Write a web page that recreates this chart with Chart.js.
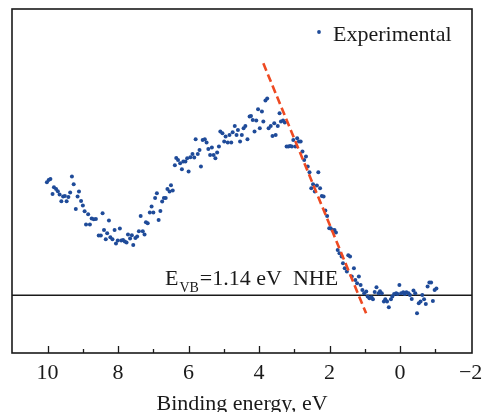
<!DOCTYPE html>
<html>
<head>
<meta charset="utf-8">
<script src="https://cdn.jsdelivr.net/npm/chart.js@4.4.1/dist/chart.umd.min.js"></script>
<style>
  body { margin: 0; background: #fff; }
  #wrap { width: 484px; height: 412px; }
</style>
</head>
<body>
<div id="wrap"><canvas id="vb" width="484" height="412"></canvas></div>
<script>
// binding energy (eV) and intensity (a.u., baseline = 0)
const energy = [10.02,9.97,9.92,9.86,9.82,9.76,9.71,9.66,9.61,9.56,9.51,9.46,9.41,9.36,9.31,9.26,9.20,9.15,9.11,9.05,
  9.00,8.95,8.91,8.85,8.80,8.75,8.69,8.63,8.55,8.49,8.44,8.40,8.35,8.31,8.26,8.22,8.16,8.10,8.06,8.01,
  7.95,7.91,7.86,7.81,7.76,7.72,7.66,7.61,7.57,7.51,7.46,7.41,7.36,7.30,7.25,7.21,7.16,7.10,7.05,7.00,
  6.95,6.90,6.85,6.80,6.75,6.70,6.65,6.60,6.54,6.50,6.45,6.39,6.35,6.30,6.24,6.19,6.15,6.09,6.04,6.00,
  5.95,5.89,5.84,5.80,5.74,5.69,5.65,5.60,5.54,5.49,5.44,5.39,5.34,5.29,5.24,5.19,5.14,5.10,5.04,4.99,
  4.95,4.89,4.84,4.79,4.75,4.69,4.64,4.60,4.54,4.49,4.44,4.39,4.33,4.27,4.23,4.18,4.13,4.08,4.03,3.98,
  3.92,3.88,3.82,3.77,3.73,3.67,3.62,3.57,3.53,3.47,3.42,3.38,3.32,3.27,3.22,3.17,3.12,3.07,3.03,2.97,
  2.92,2.87,2.82,2.77,2.72,2.67,2.62,2.57,2.52,2.47,2.42,2.36,2.32,2.27,2.22,2.17,2.12,2.07,2.01,1.97,
  1.92,1.86,1.82,1.77,1.72,1.66,1.62,1.57,1.51,1.47,1.42,1.37,1.31,1.27,1.22,1.17,1.12,1.07,1.02,0.96,
  0.92,0.87,0.81,0.77,0.72,0.67,0.61,0.57,0.52,0.46,0.42,0.37,0.32,0.26,0.22,0.17,0.11,0.07,0.02,-0.03,
  -0.09,-0.13,-0.18,-0.24,-0.28,-0.33,-0.38,-0.43,-0.48,-0.53,-0.58,-0.63,-0.68,-0.73,-0.78,-0.83,-0.88,-0.93,-0.98,-1.03];

const intensity = [113.0,115.3,116.3,101.3,108.0,106.3,104.0,100.7,94.0,98.7,99.3,94.0,98.3,102.7,118.7,111.0,86.3,98.7,103.7,94.3,
  89.7,84.0,70.7,81.0,70.7,76.7,76.0,76.3,59.7,59.7,82.0,65.3,56.0,62.0,74.7,58.0,56.0,65.3,51.7,54.7,
  66.7,54.7,55.3,53.7,52.7,60.7,56.7,60.0,50.3,57.3,58.7,64.0,79.3,64.0,60.7,73.0,72.0,82.7,88.7,82.7,
  97.3,102.0,75.3,84.3,93.7,97.3,97.3,106.3,103.7,110.0,104.7,130.0,137.3,135.3,132.0,126.0,133.7,133.7,137.0,123.7,
  138.0,141.3,137.7,156.0,141.3,145.3,128.7,155.3,156.0,152.7,146.3,140.3,147.7,140.3,137.0,142.7,148.7,163.7,162.0,153.7,
  158.7,152.7,160.3,152.7,163.0,169.3,160.3,165.3,153.7,160.3,167.0,169.3,156.0,178.7,179.3,175.3,163.7,174.7,186.0,167.0,
  183.7,173.7,194.7,196.7,167.0,169.3,159.3,172.0,160.3,169.3,182.0,173.7,174.7,172.7,148.7,148.7,149.3,148.7,155.3,148.7,
  157.0,153.7,153.7,143.7,135.3,138.7,128.7,123.0,107.0,111.0,103.7,109.7,123.0,107.0,99.3,98.7,84.7,79.3,67.0,67.0,
  65.3,65.3,62.7,45.3,42.0,38.7,32.0,27.0,23.7,40.0,38.7,18.7,27.0,15.3,12.0,18.7,10.3,5.3,2.0,3.7,
  -1.3,-3.0,-2.0,-4.0,3.3,8.0,2.0,4.0,2.0,-6.3,-4.0,-6.3,-12.0,-4.0,-1.3,1.3,2.0,1.3,10.3,2.0,
  3.0,1.3,3.0,2.0,0.3,-3.7,4.7,2.0,-18.0,-8.0,-6.3,0.3,-4.0,-8.7,8.7,12.7,12.7,-5.7,5.3,6.7];

// linear fit of the leading edge (red dashed)
const fitEnergy = [3.88, 0.965];
const fitIntensity = [232, -18];

// baseline
const baseEnergy = [11.01, -2.04];
const baseIntensity = [0, 0];

const majorTicks = [10, 8, 6, 4, 2, 0, -2];
const minorTicks = [9, 7, 5, 3, 1, -1];

const seriesName = 'Experimental';
const evbLabel = { main: 'E', sub: 'VB', rest: '=1.14 eV  NHE', x: 6.67, y: 10.3 };

const serif = '"Liberation Serif", "Times New Roman", serif';
const ink = '#1a1a1a';
const dotColor = '#1f4b99';

const pairs = (xs, ys) => xs.map((v, i) => ({ x: v, y: ys[i] }));

const framePlugin = {
  id: 'frame',
  afterDraw(chart) {
    const { ctx, chartArea: a, scales: { x, y } } = chart;
    ctx.save();
    ctx.strokeStyle = ink;
    ctx.lineWidth = 1.6;
    ctx.strokeRect(a.left, a.top, a.right - a.left, a.bottom - a.top);

    // inward ticks on the bottom axis (the -2 one sits on the frame)
    ctx.lineWidth = 1.3;
    majorTicks.concat(minorTicks).forEach(function(v) {
      if (v === -2) return;
      const px = Math.round(x.getPixelForValue(v)) + 0.5;
      const len = majorTicks.includes(v) ? 7 : 4;
      ctx.beginPath();
      ctx.moveTo(px, a.bottom);
      ctx.lineTo(px, a.bottom - len);
      ctx.stroke();
    });

    // legend
    ctx.fillStyle = dotColor;
    ctx.beginPath();
    ctx.arc(a.right - 153, a.top + 23, 1.9, 0, Math.PI * 2);
    ctx.fill();
    ctx.fillStyle = ink;
    ctx.font = '22px ' + serif;
    ctx.textBaseline = 'alphabetic';
    ctx.textAlign = 'left';
    ctx.fillText(seriesName, a.right - 139, a.top + 32);

    // E_VB annotation
    let lx = x.getPixelForValue(evbLabel.x);
    const ly = y.getPixelForValue(evbLabel.y);
    ctx.font = '22px ' + serif;
    ctx.fillText(evbLabel.main, lx, ly);
    lx += ctx.measureText(evbLabel.main).width + 1;
    ctx.font = '14px ' + serif;
    ctx.fillText(evbLabel.sub, lx, ly + 7);
    lx += ctx.measureText(evbLabel.sub).width + 1;
    ctx.font = '22px ' + serif;
    ctx.fillText(evbLabel.rest, lx, ly);
    ctx.restore();
  }
};

new Chart(document.getElementById('vb'), {
  type: 'scatter',
  data: {
    datasets: [
      {
        label: 'fit',
        data: pairs(fitEnergy, fitIntensity),
        showLine: true,
        borderColor: '#ee4a22',
        borderWidth: 2.6,
        borderDash: [8, 4],
        pointRadius: 0,
        order: 0
      },
      {
        label: seriesName,
        data: pairs(energy, intensity),
        showLine: false,
        pointRadius: 2,
        pointBorderWidth: 0,
        backgroundColor: dotColor,
        order: 1
      },
      {
        label: 'baseline',
        data: pairs(baseEnergy, baseIntensity),
        showLine: true,
        borderColor: ink,
        borderWidth: 1.5,
        pointRadius: 0,
        order: 2
      }
    ]
  },
  options: {
    responsive: false,
    animation: false,
    layout: { padding: { left: 12, right: 12, top: 9, bottom: 0 } },
    plugins: { legend: { display: false }, tooltip: { enabled: false } },
    scales: {
      x: {
        type: 'linear',
        reverse: true,
        min: -2.04,
        max: 11.01,
        grid: { display: false },
        border: { display: false },
        afterBuildTicks: function(s) { s.ticks = majorTicks.map(function(v) { return { value: v }; }); },
        afterFit: function(s) { s.height = 59; },
        ticks: {
          font: { family: serif, size: 22 },
          color: ink,
          padding: -1,
          maxRotation: 0,
          autoSkip: false,
          callback: function(v) { return v < 0 ? '\u2212' + Math.abs(v) : String(v); }
        },
        title: {
          display: true,
          text: 'Binding energy, eV',
          font: { family: serif, size: 22, lineHeight: 0.75 },
          color: ink,
          padding: 0
        }
      },
      y: {
        display: false,
        min: -57.7,
        max: 286.3
      }
    }
  },
  plugins: [framePlugin]
});
</script>
</body>
</html>
